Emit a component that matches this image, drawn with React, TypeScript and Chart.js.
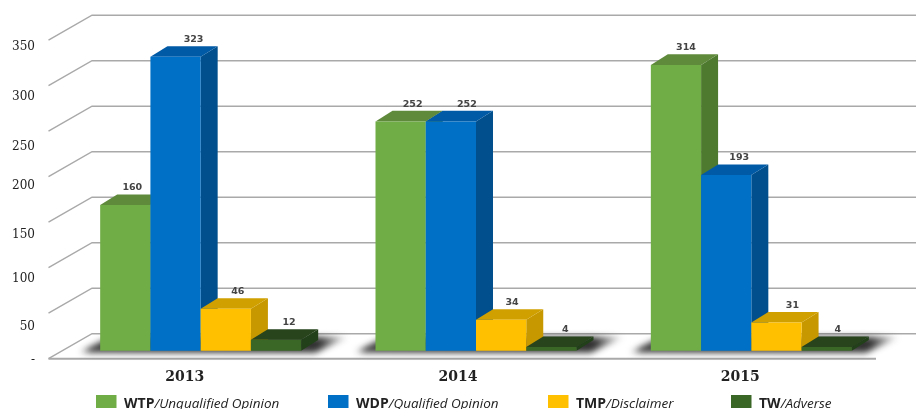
import React, { useEffect, useRef } from "react";
import { Chart, registerables } from "chart.js";

Chart.register(...registerables);

const years = ["2013", "2014", "2015"];
const wtp = [160, 252, 314];
const wdp = [323, 252, 193];
const tmp = [46, 34, 31];
const tw = [12, 4, 4];
const seriesBold = ["WTP", "WDP", "TMP", "TW"];
const seriesItalic = ["Unqualified Opinion", "Qualified Opinion", "Disclaimer", "Adverse"];

const faceColors = ["#70ad47", "#0070c6", "#ffc000", "#3a6626"];
const sideColors = ["#4e7a30", "#014f8c", "#c89800", "#22401a"];
const topColors = ["#5f8a3c", "#005aa6", "#d0a000", "#27441c"];

const DX = 17;
const DY = 10.6;
const yLabelNudge = [9, 22, 19, 21, 17, 24, 19, 15];
const xLabelNudge = [-16, -18, -11];
const valueLabelNudge = [[-5, 0, -2], [6, 4, 1], [0, -1, 4], [1, 2, -1]];
const legendSwatchX = [96, 328, 548, 731];

function poly(ctx: CanvasRenderingContext2D, pts: number[][], fill: any) {
  ctx.beginPath();
  pts.forEach((p, i) => (i ? ctx.lineTo(p[0], p[1]) : ctx.moveTo(p[0], p[1])));
  ctx.closePath();
  ctx.fillStyle = fill;
  ctx.fill();
}

const stage = {
  id: "stage",
  beforeDraw(chart: any) {
    // shift the library's own tick labels
    const ys = chart.scales.y;
    ys.getLabelItems(chart.chartArea).forEach((it: any, i: number) => {
      if (!it.__n) {
        it.options.translation[1] += yLabelNudge[i] ?? 0;
        it.__n = true;
      }
    });
    const xs = chart.scales.x;
    xs.getLabelItems(chart.chartArea).forEach((it: any, i: number) => {
      if (!it.__n) {
        it.options.translation[0] += xLabelNudge[i] ?? 0;
        it.__n = true;
      }
    });
  },
  beforeDatasetsDraw(chart: any) {
    const { ctx, chartArea: a, scales } = chart;
    const ys = scales.y;
    ctx.save();
    ctx.strokeStyle = "#a9a9a9";
    ctx.lineWidth = 1.4;
    ys.ticks.forEach((t: any) => {
      const py = ys.getPixelForValue(t.value);
      ctx.beginPath();
      ctx.moveTo(a.left - 14.5, py + 8);
      ctx.lineTo(a.left + 29, py - 17);
      ctx.lineTo(916, py - 17);
      ctx.stroke();
    });
    ctx.lineWidth = 2;
    ctx.beginPath();
    ctx.moveTo(a.left - 14.5, a.bottom + 8);
    ctx.lineTo(a.right - 13, a.bottom + 8);
    ctx.stroke();
    ctx.restore();

    // soft floor shadows under each group
    const first = chart.getDatasetMeta(0).data;
    const last = chart.getDatasetMeta(3).data;
    first.forEach((bar: any, i: number) => {
      const l = bar.x - bar.width / 2;
      const r = last[i].x + last[i].width / 2;
      const g = ctx.createLinearGradient(l - 22, 0, r + 48, 0);
      const span = r + 70 - l;
      g.addColorStop(0, "rgba(15,15,15,0)");
      g.addColorStop(12 / span, "rgba(15,15,15,0.8)");
      g.addColorStop((span - 30) / span, "rgba(15,15,15,0.85)");
      g.addColorStop(1, "rgba(15,15,15,0)");
      ctx.save();
      (ctx as any).filter = "blur(3px)";
      poly(
        ctx,
        [
          [l - 22, a.bottom + 2],
          [r + 14, a.bottom + 2],
          [r + 48, a.bottom - 14],
          [l + 10, a.bottom - 14],
        ],
        g
      );
      ctx.restore();
    });

    // bars, left to right so each one overlaps the side of the previous one
    chart.data.datasets.forEach((_: any, k: number) => {
      const meta = chart.getDatasetMeta(k);
      meta.data.forEach((bar: any) => {
        const l = bar.x - bar.width / 2;
        const r = bar.x + bar.width / 2;
        const t = bar.y;
        const b = bar.base;
        poly(ctx, [[r, t], [r + DX, t - DY], [r + DX, b - DY], [r, b]], sideColors[k]);
        poly(ctx, [[l, t], [l + DX, t - DY], [r + DX, t - DY], [r, t]], topColors[k]);
      });
      meta.controller.draw();
    });

    // value labels
    ctx.save();
    ctx.font = "bold 9.5px 'DejaVu Sans'";
    ctx.fillStyle = "#444444";
    ctx.textAlign = "center";
    ctx.textBaseline = "middle";
    chart.data.datasets.forEach((ds: any, k: number) => {
      chart.getDatasetMeta(k).data.forEach((bar: any, i: number) => {
        ctx.fillText(String(ds.data[i]), bar.x + 12 + valueLabelNudge[k][i], bar.y - DY - 6.5);
      });
    });
    ctx.restore();
    return false;
  },
  afterDraw(chart: any) {
    const { ctx } = chart;
    ctx.save();
    ctx.textBaseline = "alphabetic";
    ctx.textAlign = "left";
    seriesBold.forEach((b, i) => {
      const x = legendSwatchX[i];
      ctx.fillStyle = faceColors[i];
      ctx.fillRect(x, 395, 20.5, 13);
      ctx.fillStyle = "#222222";
      ctx.font = "bold 14px 'Open Sans'";
      ctx.fillText(b, x + 28, 408);
      const w = ctx.measureText(b).width;
      ctx.font = "italic 13.5px 'Open Sans'";
      ctx.fillText("/" + seriesItalic[i], x + 28 + w, 408);
    });
    ctx.restore();
  },
};

export default function App() {
  const ref = useRef<HTMLCanvasElement>(null);
  useEffect(() => {
    const chart = new Chart(ref.current!, {
      type: "bar",
      data: {
        labels: years,
        datasets: [wtp, wdp, tmp, tw].map((data, i) => ({
          label: seriesBold[i] + "/" + seriesItalic[i],
          data,
          backgroundColor: faceColors[i],
          categoryPercentage: 0.73,
          barPercentage: 1,
        })),
      },
      options: {
        responsive: false,
        animation: false,
        layout: { autoPadding: false, padding: { top: 32.2, right: 27, left: 0, bottom: 0 } },
        plugins: { legend: { display: false }, tooltip: { enabled: false } },
        scales: {
          x: {
            grid: { display: false },
            border: { display: false },
            afterFit: (s: any) => {
              s.height = 58.3;
            },
            ticks: {
              padding: 10,
              color: "#222222",
              font: { family: "'DejaVu Serif'", size: 14, weight: "bold" },
            },
          },
          y: {
            min: 0,
            max: 350,
            grid: { display: false },
            border: { display: false },
            afterFit: (s: any) => {
              s.width = 63;
            },
            ticks: {
              stepSize: 50,
              padding: 20,
              color: "#222222",
              font: { family: "'DejaVu Serif'", size: 12 },
              callback: (v: any) => (v === 0 ? "-" : String(v)),
            },
          },
        },
      },
      plugins: [stage],
    } as any);
    return () => chart.destroy();
  }, []);
  return (
    <div style={{ position: "absolute", left: 0, top: 0, width: 916, height: 409 }}>
      <canvas ref={ref} width={916} height={409} style={{ display: "block" }} />
    </div>
  );
}
